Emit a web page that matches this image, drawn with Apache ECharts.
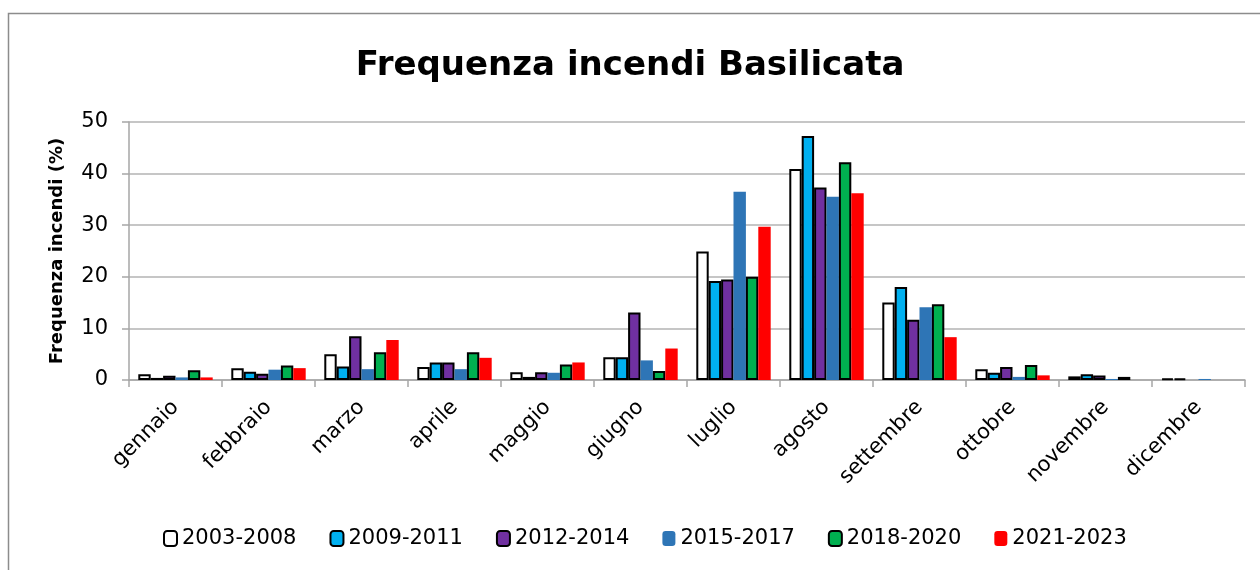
<!DOCTYPE html>
<html>
<head>
<meta charset="utf-8">
<script src="https://cdn.jsdelivr.net/npm/echarts@6/dist/echarts.min.js"></script>
<style>html,body{margin:0;padding:0;background:#fff}#c{width:1260px;height:570px}</style>
</head>
<body>
<div id="c"></div>
<script>
const months = ['gennaio','febbraio','marzo','aprile','maggio','giugno','luglio','agosto','settembre','ottobre','novembre','dicembre'];
const seriesNames = ['2003-2008','2009-2011','2012-2014','2015-2017','2018-2020','2021-2023'];
const s2003_2008 = [1.1, 2.3, 5.0, 2.5, 1.5, 4.4, 24.9, 40.9, 15.0, 2.1, 0.7, 0.3];
const s2009_2011 = [0.4, 1.6, 2.6, 3.4, 0.6, 4.4, 19.2, 47.3, 18.0, 1.4, 1.1, 0.3];
const s2012_2014 = [0.8, 1.2, 8.5, 3.4, 1.5, 13.1, 19.5, 37.3, 11.7, 2.5, 0.85, 0];
const s2015_2017 = [0.5, 2.0, 2.1, 2.1, 1.4, 3.8, 36.5, 35.5, 14.1, 0.6, 0.2, 0.2];
const s2018_2020 = [1.9, 2.8, 5.4, 5.4, 3.0, 1.75, 20.0, 42.2, 14.7, 2.9, 0.6, 0];
const s2021_2023 = [0.5, 2.3, 7.75, 4.3, 3.4, 6.1, 29.7, 36.2, 8.3, 0.9, 0, 0];
const yTicks = [0, 10, 20, 30, 40, 50];

const values = [s2003_2008, s2009_2011, s2012_2014, s2015_2017, s2018_2020, s2021_2023];
const colors = ['#FFFFFF', '#00B0F0', '#7030A0', '#2E75B6', '#00B050', '#FF0000'];
const bordered = [true, true, true, false, true, false];

const FONT = 'DejaVu Sans';
const chart = echarts.init(document.getElementById('c'), null, {renderer: 'canvas'});
chart.setOption({
  animation: false,
  backgroundColor: '#fff',
  graphic: [{
    type: 'rect', z: -1,
    shape: {x: 8.5, y: 13.5, width: 1300, height: 700},
    style: {fill: 'none', stroke: '#8c8c8c', lineWidth: 1.5}
  }],
  title: {
    text: 'Frequenza incendi Basilicata',
    left: 'center', top: 44,
    textStyle: {fontFamily: FONT, fontWeight: 'bold', fontSize: 34, color: '#000'}
  },
  legend: {
    bottom: 16, left: 158,
    itemWidth: 13, itemHeight: 15, itemGap: 33,
    textStyle: {fontFamily: FONT, fontSize: 21, color: '#000'},
    data: seriesNames
  },
  grid: {left: 129, right: 15, top: 122, bottom: 190, containLabel: false},
  xAxis: {
    type: 'category', data: months,
    axisLine: {lineStyle: {color: '#a6a6a6', width: 1.5}},
    axisTick: {show: true, length: 7, lineStyle: {color: '#a6a6a6', width: 1.5}},
    axisLabel: {rotate: 45, margin: 24, fontFamily: FONT, fontSize: 21, color: '#000', interval: 0}
  },
  yAxis: {
    type: 'value', min: yTicks[0], max: yTicks[yTicks.length - 1], interval: 10,
    name: 'Frequenza incendi (%)', nameLocation: 'middle', nameGap: 63,
    nameTextStyle: {fontFamily: FONT, fontWeight: 'bold', fontSize: 18, color: '#000'},
    axisLine: {show: true, lineStyle: {color: '#a6a6a6', width: 1.5}},
    axisTick: {show: true, length: 7, lineStyle: {color: '#a6a6a6', width: 1.5}},
    splitLine: {lineStyle: {color: '#b3b3b3', width: 1.5}},
    axisLabel: {fontFamily: FONT, fontSize: 21, color: '#000', margin: 21}
  },
  series: seriesNames.map((n, i) => ({
    name: n, type: 'bar',
    data: values[i].map(v => v === 0 ? {value: v, itemStyle: {borderWidth: 0}} : v),
    barGap: '0%', barCategoryGap: '20%',
    itemStyle: {
      color: colors[i],
      borderColor: bordered[i] ? '#000' : colors[i],
      borderWidth: bordered[i] ? 2 : 0
    }
  }))
});
</script>
</body>
</html>
